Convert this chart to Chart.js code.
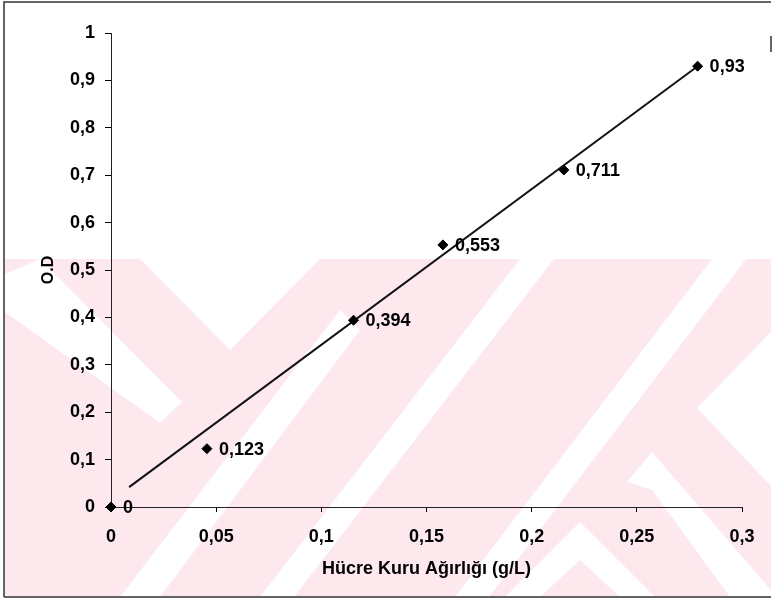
<!DOCTYPE html>
<html>
<head>
<meta charset="utf-8">
<script src="https://cdn.jsdelivr.net/npm/chart.js@4/dist/chart.umd.min.js"></script>
<style>
  html, body { margin: 0; padding: 0; background: #fff; }
  #wrap { width: 773px; height: 604px; position: relative; }
</style>
</head>
<body>
<div id="wrap"><canvas id="chart"></canvas></div>
<script>
// dry cell weight (g/L) and optical density readings
const dryWeight = [0, 0.0456, 0.1153, 0.1578, 0.2153, 0.2789];
const odValues = [0, 0.123, 0.394, 0.553, 0.711, 0.93];
const pointLabels = ['0', '0,123', '0,394', '0,553', '0,711', '0,93'];

// linear trendline end points
const trendX = [0.0086, 0.2789];
const trendY = [0.042, 0.93];

const xTitle = 'Hücre Kuru Ağırlığı (g/L)';
const yTitle = 'O.D';

const FONT = '"Liberation Sans", Arial, sans-serif';

const comma = (v, digits) => String(Math.round(v * Math.pow(10, digits)) / Math.pow(10, digits)).replace('.', ',');

// faint thesis watermark behind the plot (decoration only)
const watermark = {
  id: 'watermark',
  beforeDraw(chart) {
    const ctx = chart.ctx;
    const poly = (pts) => {
      ctx.beginPath();
      ctx.moveTo(pts[0][0], pts[0][1]);
      for (let i = 1; i < pts.length; i++) ctx.lineTo(pts[i][0], pts[i][1]);
      ctx.closePath();
      ctx.fill();
    };
    ctx.save();
    ctx.fillStyle = 'rgb(252,232,237)';
    ctx.fillRect(5, 259, 766, 338);
    ctx.fillStyle = '#fff';
    poly([[140, 259], [320, 259], [230, 350]]);
    poly([[5, 274], [40, 259], [182, 402], [160, 423], [5, 312]]);
    poly([[260, 597], [520, 259], [554, 259], [294, 597]]);
    poly([[120, 597], [340, 310], [360, 330], [160, 597]]);
    poly([[455, 597], [712, 259], [746, 259], [489, 597]]);
    poly([[580, 522], [505, 597], [540, 597], [580, 560], [620, 597], [655, 597]]);
    poly([[652, 452], [627, 482], [652, 490], [730, 597], [771, 597], [771, 590]]);
    poly([[697, 408], [771, 332], [771, 486]]);
    ctx.restore();
  }
};

// scanned frame around the figure
const frame = {
  id: 'frame',
  afterDraw(chart) {
    const ctx = chart.ctx;
    ctx.save();
    ctx.strokeStyle = '#333';
    ctx.lineWidth = 1.5;
    ctx.beginPath();
    ctx.moveTo(4, 597);
    ctx.lineTo(4, 2);
    ctx.lineTo(771, 2);
    ctx.moveTo(4, 597);
    ctx.lineTo(771, 597);
    ctx.moveTo(771, 36);
    ctx.lineTo(771, 52);
    ctx.stroke();
    ctx.restore();
  }
};

// value labels to the right of each marker
const valueLabels = {
  id: 'valueLabels',
  afterDatasetsDraw(chart) {
    const ctx = chart.ctx;
    const meta = chart.getDatasetMeta(0);
    ctx.save();
    ctx.font = 'bold 18px ' + FONT;
    ctx.fillStyle = '#000';
    ctx.textAlign = 'left';
    ctx.textBaseline = 'middle';
    meta.data.forEach((pt, i) => {
      ctx.fillText(pointLabels[i], pt.x + 12, pt.y + 1);
    });
    ctx.restore();
  }
};

new Chart(document.getElementById('chart').getContext('2d'), {
  type: 'scatter',
  data: {
    datasets: [
      {
        label: 'O.D',
        data: dryWeight.map((x, i) => ({ x: x, y: odValues[i] })),
        pointStyle: 'rectRot',
        pointRadius: 5,
        pointBackgroundColor: '#000',
        pointBorderColor: '#000',
        pointBorderWidth: 1,
        showLine: false,
        clip: false,
        order: 1
      },
      {
        label: 'Trend',
        data: trendX.map((x, i) => ({ x: x, y: trendY[i] })),
        showLine: true,
        borderColor: '#111',
        borderWidth: 2,
        pointRadius: 0,
        fill: false,
        order: 2
      }
    ]
  },
  options: {
    responsive: true,
    maintainAspectRatio: false,
    animation: false,
    layout: {
      padding: { top: 33, right: 31, left: 0, bottom: 0 }
    },
    plugins: {
      legend: { display: false },
      tooltip: { enabled: false }
    },
    scales: {
      x: {
        type: 'linear',
        min: 0,
        max: 0.3,
        afterFit: (scale) => { scale.height = 97; },
        ticks: {
          stepSize: 0.05,
          color: '#000',
          padding: 14,
          font: { family: FONT, size: 18, weight: 'bold' },
          callback: (v) => comma(v, 3)
        },
        grid: {
          drawOnChartArea: false,
          tickLength: 5,
          color: '#000'
        },
        border: { color: '#222', width: 1 },
        title: {
          display: true,
          text: xTitle,
          color: '#000',
          font: { family: FONT, size: 18, weight: 'bold' },
          padding: { top: 0, bottom: 24 }
        }
      },
      y: {
        type: 'linear',
        min: 0,
        max: 1,
        afterFit: (scale) => { scale.width = 111; },
        ticks: {
          stepSize: 0.1,
          color: '#000',
          padding: 10,
          font: { family: FONT, size: 18, weight: 'bold' },
          callback: (v) => comma(v, 2)
        },
        grid: {
          drawOnChartArea: false,
          tickLength: 6,
          color: '#000'
        },
        border: { color: '#222', width: 1 },
        title: {
          display: true,
          text: yTitle,
          color: '#000',
          font: { family: FONT, size: 16, weight: 'bold' },
          padding: { top: 39, bottom: 0 }
        }
      }
    }
  },
  plugins: [watermark, frame, valueLabels]
});
</script>
</body>
</html>
